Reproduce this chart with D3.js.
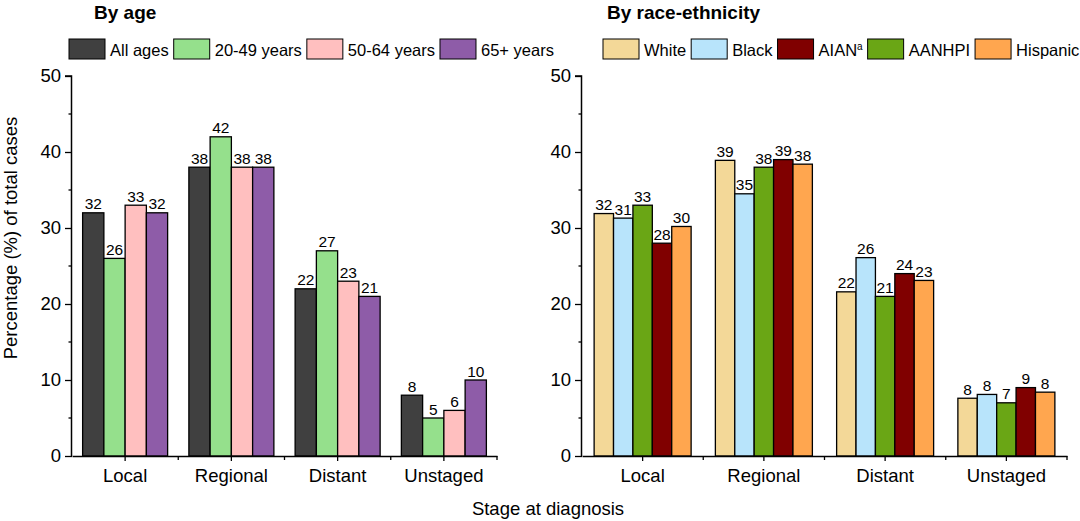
<!DOCTYPE html>
<html>
<head>
<meta charset="utf-8">
<script src="https://cdn.jsdelivr.net/npm/d3@7"></script>
<style>
  body { margin: 0; background: #fff; }
  svg text { font-family: "Liberation Sans", Arial, sans-serif; fill: #000; }
</style>
</head>
<body>
<div class="canva"></div>
<script>
// data
const stages = ["Local", "Regional", "Distant", "Unstaged"]

const ageGroups = ["All ages", "20-49 years", "50-64 years", "65+ years"]
const ageColors = ["#404040", "#95e08c", "#ffbfbf", "#8e5ca8"]
const ageValues = [
  [32, 38, 22, 8],   // All ages
  [26, 42, 27, 5],   // 20-49
  [33, 38, 23, 6],   // 50-64
  [32, 38, 21, 10]   // 65+
]

// legend order differs from bar order in the original figure
const raceLegend = ["White", "Black", "AIAN", "AANHPI", "Hispanic"]
const raceGroups = ["White", "Black", "AANHPI", "AIAN", "Hispanic"]
const raceColors = {White: "#f3d898", Black: "#b8e4fb", AIAN: "#800000", AANHPI: "#6aa615", Hispanic: "#ffa64f"}
const raceValues = [
  [31.9, 38.9, 21.6, 7.6],  // White
  [31.3, 34.5, 26.1, 8.1],  // Black
  [33.0, 38.0, 21.0, 7.0],  // AANHPI
  [28.0, 39.0, 24.0, 9.0],  // AIAN
  [30.2, 38.4, 23.1, 8.4]   // Hispanic
]

const yTicks = [0, 10, 20, 30, 40, 50]

const svg = d3.select(".canva").append("svg")
  .attr("width", 1080).attr("height", 521)

function panel(opt) {
  const g = svg.append("g")
  const x = d3.scaleBand().domain(stages).range([opt.x0, opt.x1]).paddingInner(0.2).paddingOuter(0.1)
  const xAxisScale = d3.scaleBand().domain(stages).range([opt.x0, opt.x1])
  const y = d3.scaleLinear().domain([0, 50]).range([456, 76])
  const inner = d3.scaleBand().domain(opt.groups).range([0, x.bandwidth()])

  // bars
  opt.groups.forEach((grp, gi) => {
    const vals = opt.values[gi]
    g.selectAll(null).data(vals).enter().append("rect")
      .attr("x", (d, i) => x(stages[i]) + inner(grp))
      .attr("y", d => y(d))
      .attr("width", inner.bandwidth())
      .attr("height", d => y(0) - y(d))
      .attr("fill", opt.color(grp, gi))
      .attr("stroke", "#000").attr("stroke-width", 1.3)

    g.selectAll(null).data(vals).enter().append("text")
      .attr("x", (d, i) => x(stages[i]) + inner(grp) + inner.bandwidth() / 2)
      .attr("y", d => y(d) - 3.5)
      .attr("text-anchor", "middle")
      .style("font-size", "15.5px")
      .text(d => d3.format(".0f")(d))
  })

  // y axis
  const ya = g.append("g").attr("transform", `translate(${opt.x0},0)`)
    .call(d3.axisLeft(y).tickValues(yTicks).tickSize(7).tickPadding(4))
  ya.selectAll("text").style("font-size", "18.5px").style("font-family", "Liberation Sans, Arial")
  ya.select(".domain").attr("d", `M-0.5,${y(0)}V${y(50)}H-7`).attr("stroke-width", 1.5)
  ya.selectAll(".tick line").attr("stroke-width", 1.3)
  g.selectAll(null).data([5, 15, 25, 35, 45]).enter().append("line")
    .attr("x1", opt.x0 - 3.5).attr("x2", opt.x0)
    .attr("y1", d => y(d)).attr("y2", d => y(d))
    .attr("stroke", "#000").attr("stroke-width", 1.3)

  // x axis
  const xa = g.append("g").attr("transform", `translate(0,${y(0)})`)
    .call(d3.axisBottom(x).tickSize(5).tickPadding(8).tickSizeOuter(0))
  xa.selectAll("text").style("font-size", "18.5px").style("font-family", "Liberation Sans, Arial")
  xa.select(".domain").attr("stroke-width", 1.5)
  xa.selectAll(".tick line").attr("stroke-width", 1.3)
  g.selectAll(null).data(stages).enter().append("line")
    .attr("x1", (d, i) => opt.x0 + xAxisScale.step() * (i + 1))
    .attr("x2", (d, i) => opt.x0 + xAxisScale.step() * (i + 1))
    .attr("y1", y(0)).attr("y2", y(0) + 4)
    .attr("stroke", "#000").attr("stroke-width", 1.3)

  // title
  g.append("text").attr("x", opt.titleX).attr("y", 19)
    .style("font-size", "19px").style("font-weight", "bold").text(opt.title)

  // legend
  let lx = opt.legendX
  opt.legend.forEach((name, i) => {
    g.append("rect").attr("x", lx).attr("y", 39).attr("width", 36).attr("height", 20)
      .attr("fill", opt.color(name, i)).attr("stroke", "#000").attr("stroke-width", 1)
    const t = g.append("text").attr("x", lx + 41).attr("y", 55.5).style("font-size", "16.5px")
    if (name === "AIAN") {
      t.append("tspan").text("AIAN")
      t.append("tspan").attr("dy", -6).style("font-size", "10px").text("a")
    } else {
      t.text(name)
    }
    lx += 41 + t.node().getComputedTextLength() + 5
  })
}

panel({
  x0: 72, x1: 497,
  groups: ageGroups, values: ageValues, legend: ageGroups,
  color: (name) => ageColors[ageGroups.indexOf(name)],
  title: "By age", titleX: 94, legendX: 69
})

panel({
  x0: 582, x1: 1067,
  groups: raceGroups, values: raceValues, legend: raceLegend,
  color: (name) => raceColors[name],
  title: "By race-ethnicity", titleX: 607, legendX: 603
})

// shared axis titles
svg.append("text").attr("transform", "translate(17,238) rotate(-90)")
  .attr("text-anchor", "middle").style("font-size", "18.5px").text("Percentage (%) of total cases")
svg.append("text").attr("x", 548).attr("y", 515)
  .attr("text-anchor", "middle").style("font-size", "18.5px").text("Stage at diagnosis")
</script>
</body>
</html>
